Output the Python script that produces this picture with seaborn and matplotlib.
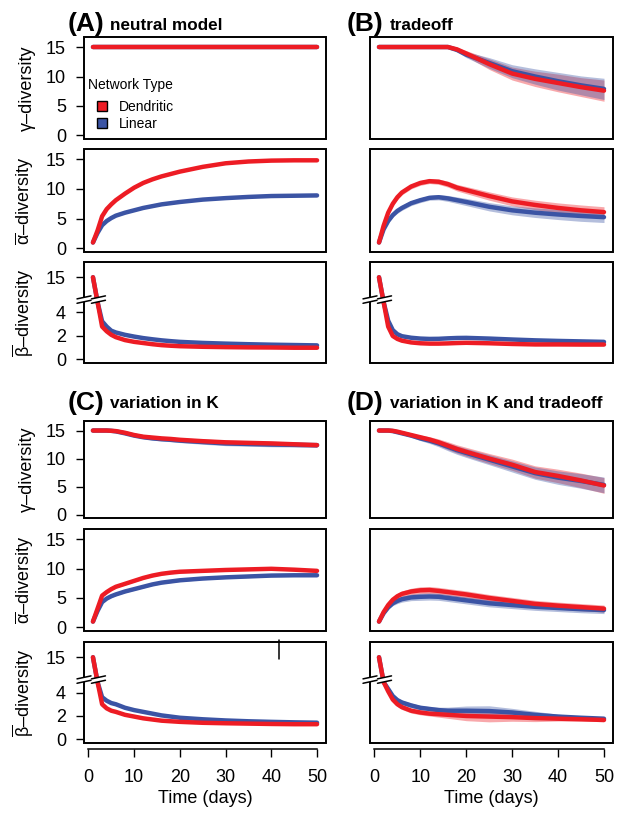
import numpy as np
import pandas as pd
import matplotlib
matplotlib.use("Agg")
import matplotlib.pyplot as plt
import seaborn as sns
from matplotlib.lines import Line2D
from matplotlib.patches import Rectangle, Polygon

# sampled days
DAYS = [1, 2, 3, 4, 5, 6, 8, 10, 12, 14, 16, 18, 20, 25, 30, 35, 40, 45, 50]

# (A) neutral model
A_GAM_DEN = [15, 15, 15, 15, 15, 15, 15, 15, 15, 15, 15, 15, 15, 15, 15, 15, 15, 15, 15]
A_GAM_LIN = [15, 15, 15, 15, 15, 15, 15, 15, 15, 15, 15, 15, 15, 15, 15, 15, 15, 15, 15]
A_GAM_SD = [0, 0, 0, 0, 0, 0, 0, 0, 0, 0, 0, 0, 0, 0, 0, 0, 0, 0, 0]
A_ALP_DEN = [1.0, 3.0, 5.4, 6.6, 7.4, 8.1, 9.2, 10.2, 11.0, 11.6, 12.1, 12.5, 12.9, 13.7, 14.3, 14.6, 14.75, 14.8, 14.8]
A_ALP_LIN = [1.0, 2.6, 3.9, 4.6, 5.1, 5.5, 6.0, 6.4, 6.8, 7.1, 7.4, 7.6, 7.8, 8.2, 8.45, 8.65, 8.8, 8.85, 8.9]
A_ALP_SD = [0, 0.1, 0.15, 0.15, 0.15, 0.15, 0.15, 0.15, 0.15, 0.15, 0.15, 0.15, 0.15, 0.15, 0.15, 0.15, 0.15, 0.15, 0.15]
A_BET_DEN = [15, 4.9, 2.8, 2.4, 2.1, 1.9, 1.65, 1.5, 1.4, 1.3, 1.22, 1.17, 1.13, 1.08, 1.05, 1.03, 1.02, 1.0, 1.0]
A_BET_LIN = [15, 4.9, 3.25, 2.8, 2.45, 2.3, 2.1, 1.95, 1.82, 1.72, 1.63, 1.56, 1.5, 1.41, 1.35, 1.3, 1.26, 1.23, 1.2]
A_BET_SD = [0, 0, 0.05, 0.05, 0.05, 0.05, 0.05, 0.05, 0.05, 0.05, 0.05, 0.05, 0.05, 0.05, 0.05, 0.05, 0.05, 0.05, 0.05]

# (B) tradeoff
B_GAM_DEN = [15, 15, 15, 15, 15, 15, 15, 15, 15, 15, 15, 14.6, 13.9, 12.1, 10.5, 9.6, 8.9, 8.2, 7.6]
B_GAM_LIN = [15, 15, 15, 15, 15, 15, 15, 15, 15, 15, 15, 14.5, 13.7, 12.3, 10.9, 10.0, 9.2, 8.5, 7.9]
B_GAM_SD = [0, 0, 0, 0, 0, 0, 0, 0, 0, 0.05, 0.1, 0.3, 0.5, 0.9, 1.1, 1.3, 1.5, 1.6, 1.8]
B_ALP_DEN = [1.0, 3.8, 6.0, 7.5, 8.6, 9.4, 10.4, 11.0, 11.3, 11.2, 10.8, 10.2, 9.8, 8.8, 7.9, 7.3, 6.8, 6.4, 6.1]
B_ALP_LIN = [1.0, 3.2, 4.6, 5.6, 6.3, 6.8, 7.6, 8.1, 8.5, 8.6, 8.4, 8.1, 7.8, 7.0, 6.4, 6.0, 5.7, 5.45, 5.25]
B_ALP_SD = [0, 0.2, 0.3, 0.35, 0.4, 0.4, 0.4, 0.4, 0.4, 0.45, 0.5, 0.55, 0.6, 0.7, 0.75, 0.8, 0.85, 0.9, 0.9]
B_BET_DEN = [15, 4.9, 2.8, 2.0, 1.75, 1.6, 1.45, 1.38, 1.35, 1.35, 1.37, 1.4, 1.42, 1.38, 1.32, 1.28, 1.28, 1.27, 1.27]
B_BET_LIN = [15, 4.9, 3.3, 2.5, 2.15, 1.98, 1.85, 1.78, 1.75, 1.76, 1.8, 1.83, 1.84, 1.78, 1.7, 1.63, 1.58, 1.54, 1.5]
B_BET_SD = [0, 0, 0.08, 0.08, 0.08, 0.08, 0.08, 0.08, 0.08, 0.08, 0.08, 0.08, 0.08, 0.08, 0.08, 0.08, 0.08, 0.08, 0.08]

# (C) variation in K
C_GAM_DEN = [15, 15, 15, 15, 14.95, 14.9, 14.6, 14.2, 13.9, 13.75, 13.6, 13.5, 13.35, 13.1, 12.9, 12.8, 12.7, 12.55, 12.4]
C_GAM_LIN = [15, 15, 15, 15, 14.95, 14.85, 14.5, 14.1, 13.8, 13.6, 13.45, 13.35, 13.2, 12.95, 12.7, 12.6, 12.5, 12.45, 12.4]
C_GAM_SD = [0, 0, 0, 0, 0.05, 0.1, 0.15, 0.2, 0.25, 0.3, 0.3, 0.35, 0.35, 0.4, 0.4, 0.4, 0.4, 0.4, 0.4]
C_ALP_DEN = [1.0, 3.2, 5.4, 6.0, 6.5, 6.9, 7.4, 7.9, 8.4, 8.8, 9.1, 9.3, 9.45, 9.6, 9.75, 9.85, 9.95, 9.8, 9.6]
C_ALP_LIN = [1.0, 2.8, 4.3, 4.9, 5.3, 5.6, 6.1, 6.5, 6.9, 7.3, 7.6, 7.8, 8.0, 8.3, 8.5, 8.65, 8.8, 8.85, 8.85]
C_ALP_SD = [0, 0.15, 0.2, 0.2, 0.2, 0.2, 0.2, 0.2, 0.2, 0.2, 0.2, 0.2, 0.2, 0.2, 0.2, 0.2, 0.2, 0.2, 0.2]
C_BET_DEN = [15, 4.9, 3.0, 2.65, 2.45, 2.35, 2.1, 1.95, 1.8, 1.7, 1.6, 1.55, 1.5, 1.42, 1.38, 1.35, 1.32, 1.3, 1.3]
C_BET_LIN = [15, 4.9, 3.6, 3.3, 3.1, 3.0, 2.7, 2.5, 2.35, 2.2, 2.05, 1.95, 1.85, 1.72, 1.62, 1.55, 1.5, 1.46, 1.43]
C_BET_SD = [0, 0, 0.06, 0.06, 0.06, 0.06, 0.06, 0.06, 0.06, 0.06, 0.06, 0.06, 0.06, 0.06, 0.06, 0.06, 0.06, 0.06, 0.06]

# (D) variation in K and tradeoff
D_GAM_DEN = [15, 15, 15, 14.95, 14.8, 14.6, 14.2, 13.8, 13.4, 12.9, 12.3, 11.7, 11.2, 10.0, 8.9, 7.6, 6.9, 6.1, 5.2]
D_GAM_LIN = [15, 15, 15, 14.9, 14.7, 14.5, 14.1, 13.6, 13.2, 12.7, 12.1, 11.5, 11.0, 9.8, 8.6, 7.4, 6.6, 6.0, 5.3]
D_GAM_SD = [0, 0, 0, 0.05, 0.1, 0.2, 0.3, 0.4, 0.5, 0.6, 0.7, 0.75, 0.8, 0.9, 1.0, 1.1, 1.2, 1.3, 1.4]
D_ALP_DEN = [1.0, 2.6, 3.8, 4.7, 5.3, 5.7, 6.1, 6.3, 6.35, 6.2, 6.0, 5.8, 5.6, 5.0, 4.5, 4.0, 3.7, 3.45, 3.2]
D_ALP_LIN = [1.0, 2.4, 3.4, 4.1, 4.5, 4.8, 5.1, 5.2, 5.25, 5.2, 5.0, 4.8, 4.6, 4.1, 3.8, 3.5, 3.3, 3.1, 2.95]
D_ALP_SD = [0, 0.2, 0.3, 0.4, 0.45, 0.5, 0.55, 0.6, 0.6, 0.6, 0.6, 0.6, 0.6, 0.6, 0.6, 0.6, 0.6, 0.6, 0.6]
D_BET_DEN = [15, 4.9, 4.1, 3.4, 3.0, 2.75, 2.45, 2.3, 2.2, 2.15, 2.1, 2.05, 2.0, 1.95, 1.9, 1.82, 1.77, 1.72, 1.66]
D_BET_LIN = [15, 4.9, 4.3, 3.7, 3.35, 3.15, 2.9, 2.7, 2.6, 2.5, 2.45, 2.45, 2.45, 2.42, 2.3, 2.1, 1.95, 1.85, 1.77]
D_BET_SD = [0, 0, 0.2, 0.2, 0.2, 0.2, 0.2, 0.2, 0.2, 0.25, 0.3, 0.35, 0.4, 0.45, 0.35, 0.3, 0.2, 0.15, 0.15]

PANEL_TITLES = {"A": "neutral model", "B": "tradeoff",
                "C": "variation in K", "D": "variation in K and tradeoff"}
METRICS = ["gamma", "alpha", "beta"]
YLABELS = {"gamma": "γ–diversity",
           "alpha": r"$\overline{\alpha}$–diversity",
           "beta": r"$\overline{\beta}$–diversity"}
NETWORKS = ["Dendritic", "Linear"]
PALETTE = {"Dendritic": "#ED1C24", "Linear": "#3B54A4"}

SERIES = [
    ("A", "gamma", A_GAM_DEN, A_GAM_LIN, A_GAM_SD),
    ("A", "alpha", A_ALP_DEN, A_ALP_LIN, A_ALP_SD),
    ("A", "beta", A_BET_DEN, A_BET_LIN, A_BET_SD),
    ("B", "gamma", B_GAM_DEN, B_GAM_LIN, B_GAM_SD),
    ("B", "alpha", B_ALP_DEN, B_ALP_LIN, B_ALP_SD),
    ("B", "beta", B_BET_DEN, B_BET_LIN, B_BET_SD),
    ("C", "gamma", C_GAM_DEN, C_GAM_LIN, C_GAM_SD),
    ("C", "alpha", C_ALP_DEN, C_ALP_LIN, C_ALP_SD),
    ("C", "beta", C_BET_DEN, C_BET_LIN, C_BET_SD),
    ("D", "gamma", D_GAM_DEN, D_GAM_LIN, D_GAM_SD),
    ("D", "alpha", D_ALP_DEN, D_ALP_LIN, D_ALP_SD),
    ("D", "beta", D_BET_DEN, D_BET_LIN, D_BET_SD),
]

rows = []
for panel, metric, den, lin, sd in SERIES:
    for net, vals in (("Dendritic", den), ("Linear", lin)):
        for d, v, s in zip(DAYS, vals, sd):
            rows.append({"panel": panel, "metric": metric, "network": net,
                         "day": d, "value": v, "sd": s})
df = pd.DataFrame(rows)


def gap(y):
    # broken beta axis: values above the gap (5..13) are shifted down by 8
    y = np.asarray(y, dtype=float)
    return np.where(y > 5, y - 8, y)


df["lo"] = df["value"] - df["sd"]
df["hi"] = df["value"] + df["sd"]
isb = df["metric"] == "beta"
df["plot_value"] = df["value"]
df.loc[isb, "plot_value"] = gap(df.loc[isb, "value"])
df.loc[isb, "lo"] = gap(df.loc[isb, "lo"])
df.loc[isb, "hi"] = gap(df.loc[isb, "hi"])

sns.set_theme(style="white")
plt.rcParams["font.family"] = ["Liberation Sans", "DejaVu Sans"]
plt.rcParams["mathtext.fontset"] = "custom"
plt.rcParams["mathtext.rm"] = "Liberation Sans"
plt.rcParams["mathtext.it"] = "Liberation Sans"
plt.rcParams["mathtext.bf"] = "Liberation Sans:bold"
for k in ["text.color", "axes.labelcolor", "xtick.color", "ytick.color"]:
    plt.rcParams[k] = "black"

W, H = 636, 813
fig = plt.figure(figsize=(W / 100, H / 100), dpi=100)


def fx(px):
    return px / W


def fy(py):
    return 1 - py / H


COLS = {"A": (84, 326), "B": (370, 613), "C": (84, 326), "D": (370, 613)}
ROWS = {"A": [(37, 139), (149, 252), (262, 363)],
        "B": [(37, 139), (149, 252), (262, 363)],
        "C": [(421, 518), (529, 631), (642, 743)],
        "D": [(421, 518), (529, 631), (642, 743)]}
XLIM = (-0.96, 51.96)
YLIM = {"gamma": (-0.6, 16.7), "alpha": (-0.6, 16.7), "beta": (-0.3, 8.3)}


def break_mark(cx, cy):
    # double slash in figure pixel coords
    hl, rise, sep = 7, 3, 2.2
    xs = [cx - hl, cx + hl]
    top = [cy - sep + rise / 2, cy - sep - rise / 2]
    bot = [cy + sep + rise / 2, cy + sep - rise / 2]
    poly = Polygon([(fx(xs[0]), fy(top[0])), (fx(xs[1]), fy(top[1])),
                    (fx(xs[1]), fy(bot[1])), (fx(xs[0]), fy(bot[0]))],
                   closed=True, transform=fig.transFigure, facecolor="white",
                   edgecolor="none", zorder=20)
    fig.add_artist(poly)
    for yy in (top, bot):
        fig.add_artist(Line2D([fx(xs[0]), fx(xs[1])], [fy(yy[0]), fy(yy[1])],
                              transform=fig.transFigure, color="black",
                              lw=1.1, zorder=21))


for panel in ["A", "B", "C", "D"]:
    x0, x1 = COLS[panel]
    left_col = panel in ("A", "C")
    bottom_row = panel in ("C", "D")
    for i, metric in enumerate(METRICS):
        y0, y1 = ROWS[panel][i]
        ax = fig.add_axes([fx(x0), fy(y1), (x1 - x0) / W, (y1 - y0) / H])
        sub = df[(df.panel == panel) & (df.metric == metric)]

        for net in NETWORKS:
            s = sub[sub.network == net]
            ax.fill_between(s["day"], s["lo"], s["hi"], color=PALETTE[net],
                            alpha=0.38, lw=0)
        sns.lineplot(data=sub, x="day", y="plot_value", hue="network",
                     hue_order=["Linear", "Dendritic"], palette=PALETTE,
                     lw=3.2, legend=False, errorbar=None, ax=ax,
                     solid_capstyle="round")

        ax.set_xlim(*XLIM)
        ax.set_ylim(*YLIM[metric])
        for sp in ax.spines.values():
            sp.set_visible(False)
        ax.add_patch(Rectangle((0, 0), 1, 1, transform=ax.transAxes, fill=False,
                               edgecolor="black", lw=1.4, clip_on=False, zorder=10))

        # y axis
        if metric == "beta":
            ax.set_yticks([0, 2, 4, 7])
            ax.set_yticklabels(["0", "2", "4", "15"])
        else:
            ax.set_yticks([0, 5, 10, 15])
        if left_col:
            ax.tick_params(axis="y", left=True, length=6, width=1, direction="out",
                           labelsize=13, pad=7)
            ax.set_ylabel(YLABELS[metric], fontsize=13)
            ax.yaxis.set_label_coords(-0.2, 0.5)
        else:
            ax.tick_params(axis="y", left=False, labelleft=False)
            ax.set_ylabel("")

        # x axis only under the bottom panels
        if metric == "beta" and bottom_row:
            ax.spines["bottom"].set_visible(True)
            ax.spines["bottom"].set_position(("outward", 4))
            ax.spines["bottom"].set_bounds(0, 50)
            ax.spines["bottom"].set_linewidth(1.1)
            ax.spines["bottom"].set_color("black")
            ax.set_xticks([0, 10, 20, 30, 40, 50])
            ax.tick_params(axis="x", bottom=True, length=6, width=1, direction="out",
                           labelsize=13, pad=9)
            ax.set_xlabel("Time (days)", fontsize=13)
            ax.xaxis.set_label_coords(0.5, -0.47)
            ax.xaxis.label.set_va("top")
        else:
            ax.set_xticks([])
            ax.set_xlabel("")

        if metric == "beta":
            # axis break marks
            ypx = y1 - (5.1 - YLIM["beta"][0]) / (YLIM["beta"][1] - YLIM["beta"][0]) * (y1 - y0)
            xdata = x0 + (2.2 - XLIM[0]) / (XLIM[1] - XLIM[0]) * (x1 - x0)
            break_mark(x0, ypx)
            break_mark(xdata, ypx)

        if panel == "A" and metric == "gamma":
            ax.text(0.0165, 0.53, "Network Type", transform=ax.transAxes,
                    fontsize=10, ha="left", va="center")
            handles = [Line2D([], [], marker="s", ls="none", ms=7.5,
                              mfc=PALETTE[n], mec="black", mew=1.0) for n in NETWORKS]
            ax.legend(handles, NETWORKS, loc="upper left",
                      bbox_to_anchor=(0.0165, 0.385), frameon=False, fontsize=10,
                      borderpad=0, borderaxespad=0, handlelength=2.0,
                      handletextpad=0.25, labelspacing=0.2)

    # panel titles
    tx = 68 if left_col else 347
    sx = 110 if left_col else 390
    by = 31.5 if panel in ("A", "B") else 410
    fig.text(fx(tx), fy(by), f"({panel})", fontsize=19, fontweight="bold", va="baseline")
    fig.text(fx(sx), fy(by - 2), PANEL_TITLES[panel], fontsize=12.3,
             fontweight="bold", va="baseline")

# stray tick mark in panel C
fig.add_artist(Line2D([fx(279), fx(279)], [fy(640), fy(659)],
                      transform=fig.transFigure, color="black", lw=1.1))

fig.savefig("out.png", dpi=100)
